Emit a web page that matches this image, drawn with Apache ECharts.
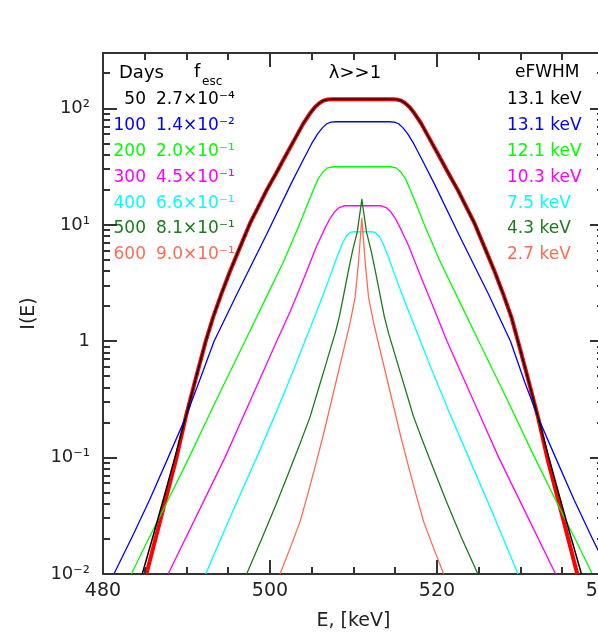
<!DOCTYPE html>
<html>
<head>
<meta charset="utf-8">
<style>
  html, body { margin: 0; padding: 0; background: #fff; }
  #chart { width: 598px; height: 643px; }
</style>
<script src="https://cdn.jsdelivr.net/npm/echarts@6/dist/echarts.min.js"></script>
</head>
<body>
<div id="chart"></div>
<script>
// spectra: [E keV, I(E)]
const curve50 = [
  [484.7, 0.010], [486.0, 0.0212], [487.3, 0.0457], [488.6, 0.100], [489.9, 0.222],
  [491.1, 0.476], [492.3, 1.00], [493.2, 1.62], [494.2, 2.58], [495.2, 3.98], [496.1, 5.69],
  [497.6, 10.3], [498.6, 14.3], [499.6, 19.9], [500.7, 27.5], [501.8, 38.5], [502.9, 53.5],
  [504.0, 74.5], [504.8, 91], [505.4, 103], [505.9, 111], [506.4, 117], [506.9, 119.5], [507.5, 120],
  [511.0, 120],
  [514.6, 120], [515.2, 119.5], [515.7, 117], [516.2, 111], [516.7, 103], [517.3, 91],
  [518.1, 74.5], [519.2, 53.5], [520.3, 38.5], [521.4, 27.5], [522.5, 19.9], [523.5, 14.3],
  [524.5, 10.3], [526.0, 5.69], [526.9, 3.98], [527.9, 2.58], [528.9, 1.62], [529.7, 1.00],
  [530.9, 0.476], [532.1, 0.222], [533.4, 0.100], [534.7, 0.0457], [536.0, 0.0212], [537.3, 0.010]
];
const fit50 = [
  [485.2, 0.010], [487.0, 0.0316], [488.8, 0.100], [489.9, 0.222],
  [491.1, 0.476], [492.3, 1.00], [493.2, 1.62], [494.2, 2.58], [495.2, 3.98], [496.1, 5.69],
  [497.6, 10.3], [498.6, 14.3], [499.6, 19.9], [500.7, 27.5], [501.8, 38.5], [502.9, 53.5],
  [504.0, 74.5], [504.8, 91], [505.4, 103], [505.9, 111], [506.4, 117], [506.9, 119.5], [507.5, 120],
  [511.0, 120],
  [514.6, 120], [515.2, 119.5], [515.7, 117], [516.2, 111], [516.7, 103], [517.3, 91],
  [518.1, 74.5], [519.2, 53.5], [520.3, 38.5], [521.4, 27.5], [522.5, 19.9], [523.5, 14.3],
  [524.5, 10.3], [526.0, 5.69], [526.9, 3.98], [527.9, 2.58], [528.9, 1.62], [529.7, 1.00],
  [530.9, 0.476], [532.1, 0.222], [533.2, 0.100], [535.0, 0.0316], [536.8, 0.010]
];
const curve100 = [
  [481.3, 0.010], [483.5, 0.0209], [485.6, 0.0437], [487.8, 0.100], [489.9, 0.222],
  [491.5, 0.447], [493.3, 1.00], [496.0, 2.51], [499.6, 8.32], [502.5, 22.4],
  [504.0, 36.5], [505.0, 50.1], [505.7, 60.5], [506.3, 68.5], [506.8, 74.0], [507.3, 76.5], [507.9, 77],
  [511.0, 77],
  [514.3, 77], [514.9, 76.5], [515.4, 74.0], [515.9, 68.5], [516.5, 60.5], [517.2, 50.1],
  [518.2, 36.5], [519.7, 22.4], [522.6, 8.32], [526.2, 2.51], [528.8, 1.00], [530.5, 0.447],
  [532.1, 0.222], [534.2, 0.100], [536.4, 0.0437], [538.5, 0.0209], [540.7, 0.010]
];
const curve200 = [
  [483.4, 0.010], [485.3, 0.019], [487.2, 0.0355], [490.3, 0.100], [493.6, 0.316],
  [497.0, 1.00], [499.3, 2.19], [501.6, 4.79], [503.5, 10.0], [504.5, 15.1], [505.2, 20.0],
  [505.8, 25.1], [506.4, 28.8], [506.9, 30.9], [507.6, 31.6],
  [511.0, 31.6],
  [514.4, 31.6], [515.1, 30.9], [515.6, 28.8], [516.2, 25.1], [516.8, 20.0], [517.5, 15.1],
  [518.5, 10.0], [520.4, 4.79], [522.7, 2.19], [525.0, 1.00], [528.4, 0.316],
  [531.7, 0.100], [534.8, 0.0355], [536.7, 0.019], [538.6, 0.010]
];
const curve300 = [
  [487.8, 0.010], [491.2, 0.0316], [494.6, 0.100], [497.7, 0.316], [500.8, 1.00],
  [502.5, 1.86], [504.0, 3.39], [505.6, 6.61], [506.5, 9.1], [507.2, 11.4], [507.8, 13.1],
  [508.3, 14.1], [508.9, 14.6],
  [511.0, 14.6],
  [513.3, 14.6], [513.9, 14.1], [514.4, 13.1], [515.0, 11.4], [515.7, 9.1], [516.6, 6.61],
  [518.2, 3.39], [519.7, 1.86], [521.2, 1.00], [524.3, 0.316], [527.4, 0.100],
  [530.8, 0.0316], [534.2, 0.010]
];
const curve400 = [
  [492.3, 0.010], [495.3, 0.0316], [498.4, 0.100], [500.8, 0.251], [502.8, 0.562],
  [504.4, 1.10], [506.0, 2.14], [507.2, 3.63], [508.0, 5.25], [508.6, 6.76], [509.1, 7.94],
  [509.6, 8.61], [510.1, 8.73],
  [511.0, 8.73],
  [512.1, 8.73], [512.6, 8.61], [513.1, 7.94], [513.6, 6.76], [514.2, 5.25], [515.0, 3.63],
  [516.2, 2.14], [517.8, 1.10], [519.4, 0.562], [521.4, 0.251], [523.8, 0.100],
  [526.8, 0.0316], [529.7, 0.010]
];
const curve500 = [
  [497.2, 0.010], [499.0, 0.0200], [500.8, 0.0407], [502.4, 0.0794], [503.6, 0.132],
  [504.8, 0.224], [505.8, 0.389], [506.6, 0.603], [507.3, 0.891], [507.8, 1.17],
  [508.3, 1.62], [508.7, 2.26], [509.4, 4.07], [509.9, 6.03], [510.45, 8.71], [511.0, 16.6],
  [511.55, 8.71], [512.1, 6.03], [512.6, 4.07], [513.3, 2.26], [513.7, 1.62], [514.2, 1.17],
  [514.7, 0.891], [515.4, 0.603], [516.2, 0.389], [517.2, 0.224], [518.4, 0.132],
  [519.6, 0.0794], [521.2, 0.0407], [523.0, 0.0200], [524.9, 0.010]
];
const curve600 = [
  [501.2, 0.010], [502.4, 0.0166], [503.6, 0.0282], [504.5, 0.0479], [505.4, 0.0832],
  [506.4, 0.158], [507.4, 0.316], [508.2, 0.550], [509.0, 0.955], [509.6, 1.45],
  [510.2, 2.40], [510.6, 4.79], [511.0, 11.4],
  [511.4, 4.79], [511.8, 2.40], [512.4, 1.45], [513.0, 0.955], [513.8, 0.550], [514.6, 0.316],
  [515.6, 0.158], [516.6, 0.0832], [517.5, 0.0479], [518.4, 0.0282], [519.6, 0.0166],
  [520.8, 0.010]
];

const days = ['50', '100', '200', '300', '400', '500', '600'];
const fEsc = ['2.7×10⁻⁴', '1.4×10⁻²', '2.0×10⁻¹', '4.5×10⁻¹', '6.6×10⁻¹', '8.1×10⁻¹', '9.0×10⁻¹'];
const eFwhm = ['13.1 keV', '13.1 keV', '12.1 keV', '10.3 keV', '7.5 keV', '4.3 keV', '2.7 keV'];
const colors = ['#000000', '#0000ff', '#00ff00', '#ff00ff', '#00ffff', '#1c7a1c', '#ff6b55'];

// axis ticks
const xMajorTicks = [480, 500, 520, 540];
const xMinorTicks = [485, 490, 495, 505, 510, 515, 525, 530, 535];
const yTickValues = [0.01, 0.1, 1, 10, 100];
const yTickLabels = ['10⁻²', '10⁻¹', '1', '10¹', '10²'];
const yMinorTicks = [
  0.02, 0.03, 0.04, 0.05, 0.06, 0.07, 0.08, 0.09,
  0.2, 0.3, 0.4, 0.5, 0.6, 0.7, 0.8, 0.9,
  2, 3, 4, 5, 6, 7, 8, 9,
  20, 30, 40, 50, 60, 70, 80, 90,
  200
];

const FONT = '"DejaVu Sans", sans-serif';
const AXIS_COLOR = '#333';
const TICK_COLOR = '#333';

const chart = echarts.init(document.getElementById('chart'));

function xAxisCfg(pos, showLabel) {
  return {
    type: 'value',
    position: pos,
    min: 480,
    max: 540,
    interval: 20,
    axisLine: { show: true, lineStyle: { color: AXIS_COLOR, width: 2 } },
    axisTick: { show: false },
    splitLine: { show: false },
    axisLabel: {
      show: showLabel,
      margin: 8,
      fontFamily: FONT,
      fontSize: 19,
      color: '#222'
    }
  };
}

function yAxisCfg(pos, showLabel) {
  return {
    type: 'log',
    logBase: 10,
    position: pos,
    min: 0.01,
    max: 300,
    axisLine: { show: true, lineStyle: { color: AXIS_COLOR, width: 2 } },
    axisTick: { show: false },
    splitLine: { show: false },
    axisLabel: {
      show: showLabel,
      margin: 13,
      showMaxLabel: false,
      fontFamily: FONT,
      fontSize: 18,
      color: '#222',
      formatter: v => {
        const i = yTickValues.findIndex(t => Math.abs(Math.log10(t) - Math.log10(v)) < 1e-6);
        return i >= 0 ? yTickLabels[i] : '';
      }
    }
  };
}

const xBottom = xAxisCfg('bottom', true);
xBottom.name = 'E, [keV]';
xBottom.nameLocation = 'middle';
xBottom.nameGap = 38;
xBottom.nameTextStyle = { fontFamily: FONT, fontSize: 19, color: '#222' };

const yLeft = yAxisCfg('left', true);
yLeft.name = 'I(E)';
yLeft.nameLocation = 'middle';
yLeft.nameGap = 64;
yLeft.nameRotate = 90;
yLeft.nameTextStyle = { fontFamily: FONT, fontSize: 19, color: '#222' };

function lineSeries(data, color, width, z) {
  return {
    type: 'line',
    data: data,
    showSymbol: false,
    smooth: false,
    lineStyle: { color: color, width: width, join: 'round' },
    itemStyle: { color: color },
    z: z,
    silent: true
  };
}

// legend texts
const textEls = [];
textEls.push({ type: 'text', x: 119, y: 73, style: { text: 'Days', font: '18px ' + FONT, fill: '#000', verticalAlign: 'middle' } });
textEls.push({ type: 'text', x: 194, y: 72, style: { text: 'f', font: '18px ' + FONT, fill: '#000', verticalAlign: 'middle' } });
textEls.push({ type: 'text', x: 202, y: 82, style: { text: 'esc', font: '12px ' + FONT, fill: '#000', verticalAlign: 'middle' } });
textEls.push({ type: 'text', x: 355, y: 73, style: { text: 'λ>>1', font: '18px ' + FONT, fill: '#000', align: 'center', verticalAlign: 'middle' } });
textEls.push({ type: 'text', x: 515, y: 73, style: { text: 'eFWHM', font: '17px ' + FONT, fill: '#000', verticalAlign: 'middle' } });
days.forEach((d, i) => {
  const y = 100 + i * 25.8;
  textEls.push({ type: 'text', x: 146, y: y, style: { text: d, font: '17px ' + FONT, fill: colors[i], align: 'right', verticalAlign: 'middle' } });
  textEls.push({ type: 'text', x: 156, y: y, style: { text: fEsc[i], font: '17px ' + FONT, fill: colors[i], verticalAlign: 'middle' } });
  textEls.push({ type: 'text', x: 507, y: y, style: { text: eFwhm[i], font: '17px ' + FONT, fill: colors[i], verticalAlign: 'middle' } });
});

chart.setOption({
  animation: false,
  backgroundColor: '#fff',
  grid: { left: 103, top: 53, width: 501, height: 521, outerBoundsMode: 'none' },
  xAxis: [xBottom, xAxisCfg('top', false)],
  yAxis: [yLeft, yAxisCfg('right', false)],
  series: [
    lineSeries(fit50, '#ff0000', 4, 2),
    lineSeries(curve100, colors[1], 1.3, 3),
    lineSeries(curve200, colors[2], 1.3, 3),
    lineSeries(curve300, colors[3], 1.3, 3),
    lineSeries(curve400, colors[4], 1.3, 3),
    lineSeries(curve500, colors[5], 1.3, 3),
    lineSeries(curve600, colors[6], 1.3, 3),
    lineSeries(curve50, colors[0], 1.5, 4)
  ]
});

// ticks on all four sides, placed through the axes' scales
const toPx = (x, y) => chart.convertToPixel({ gridIndex: 0 }, [x, y]);
const gLeft = Math.round(toPx(480, 1)[0]);
const gRight = Math.round(toPx(540, 1)[0]);
const gTop = Math.round(toPx(480, 300)[1]);
const gBottom = Math.round(toPx(480, 0.01)[1]);
const tickEls = [];

function tick(x1, y1, x2, y2) {
  tickEls.push({
    type: 'line', z: 100,
    shape: { x1: x1, y1: y1, x2: x2, y2: y2 },
    style: { stroke: TICK_COLOR, lineWidth: 2 }
  });
}
function xTick(v, len) {
  const x = Math.round(toPx(v, 1)[0]);
  tick(x, gBottom, x, gBottom - len);
  tick(x, gTop, x, gTop + len);
}
function yTick(v, len) {
  const y = Math.round(toPx(480, v)[1]);
  tick(gLeft, y, gLeft + len, y);
  tick(gRight, y, gRight - len, y);
}
xMajorTicks.forEach(v => xTick(v, 14));
xMinorTicks.forEach(v => xTick(v, 7));
yTickValues.forEach(v => yTick(v, 14));
yMinorTicks.forEach(v => yTick(v, 7));

chart.setOption({ graphic: textEls.concat(tickEls) });
</script>
</body>
</html>
